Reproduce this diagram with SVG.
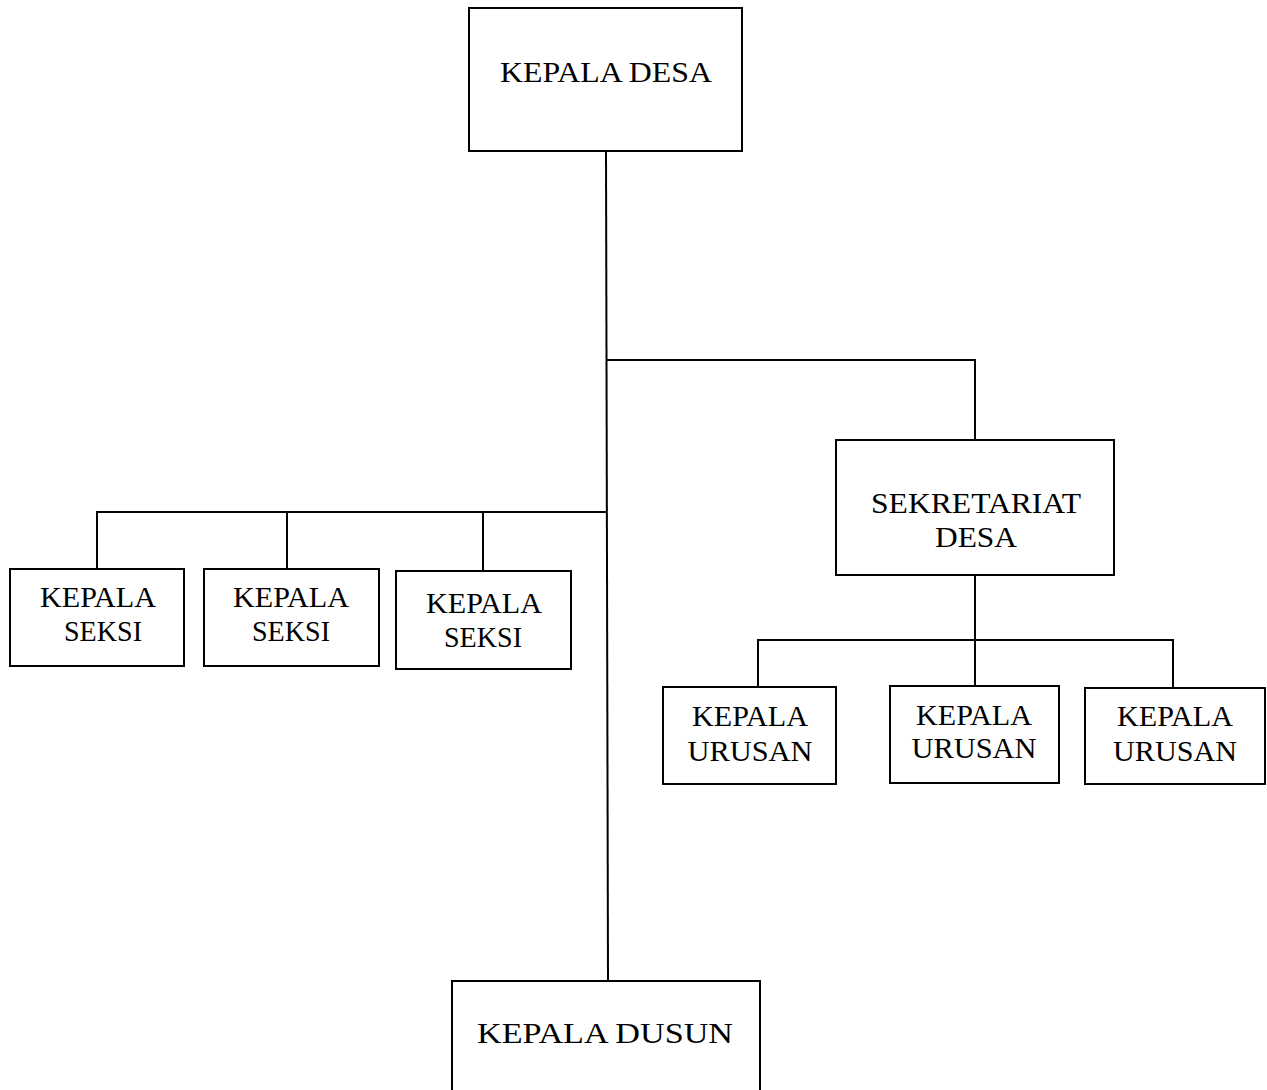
<svg xmlns="http://www.w3.org/2000/svg" width="1267" height="1090" viewBox="0 0 1267 1090">
<style>
.box{fill:#fff;stroke:#000;stroke-width:2}
.ln{fill:none;stroke:#000;stroke-width:2}
text{font-family:"Liberation Serif","DejaVu Serif",serif;font-size:30px;fill:#000;text-anchor:middle}
</style>
<rect width="1267" height="1090" fill="#fff"/>
<g id="connectors">
<path class="ln" d="M606,151 L608,981"/>
<path class="ln" d="M606,360 H975 V440"/>
<path class="ln" d="M96,512 H607"/>
<path class="ln" d="M97,512 V569 M287,512 V569 M483,512 V571"/>
<path class="ln" d="M975,575 V687"/>
<path class="ln" d="M758,687 V640 H1173 V688"/>
</g>
<g id="kepala-desa">
<rect class="box" x="469" y="8" width="273" height="143"/>
<text x="606" y="82" textLength="212" lengthAdjust="spacingAndGlyphs">KEPALA DESA</text>
</g>
<g id="sekretariat-desa">
<rect class="box" x="836" y="440" width="278" height="135"/>
<text x="976" y="513" textLength="210" lengthAdjust="spacingAndGlyphs">SEKRETARIAT</text>
<text x="976" y="547" textLength="82" lengthAdjust="spacingAndGlyphs">DESA</text>
</g>
<g id="kepala-seksi-1">
<rect class="box" x="10" y="569" width="174" height="97"/>
<text x="98" y="607" textLength="116" lengthAdjust="spacingAndGlyphs">KEPALA</text>
<text x="103" y="641" textLength="78" lengthAdjust="spacingAndGlyphs">SEKSI</text>
</g>
<g id="kepala-seksi-2">
<rect class="box" x="204" y="569" width="175" height="97"/>
<text x="291" y="607" textLength="116" lengthAdjust="spacingAndGlyphs">KEPALA</text>
<text x="291" y="641" textLength="78" lengthAdjust="spacingAndGlyphs">SEKSI</text>
</g>
<g id="kepala-seksi-3">
<rect class="box" x="396" y="571" width="175" height="98"/>
<text x="484" y="613" textLength="116" lengthAdjust="spacingAndGlyphs">KEPALA</text>
<text x="483" y="647" textLength="78" lengthAdjust="spacingAndGlyphs">SEKSI</text>
</g>
<g id="kepala-urusan-1">
<rect class="box" x="663" y="687" width="173" height="97"/>
<text x="750" y="726" textLength="116" lengthAdjust="spacingAndGlyphs">KEPALA</text>
<text x="750" y="761" textLength="125" lengthAdjust="spacingAndGlyphs">URUSAN</text>
</g>
<g id="kepala-urusan-2">
<rect class="box" x="890" y="686" width="169" height="97"/>
<text x="974" y="725" textLength="116" lengthAdjust="spacingAndGlyphs">KEPALA</text>
<text x="974" y="758" textLength="125" lengthAdjust="spacingAndGlyphs">URUSAN</text>
</g>
<g id="kepala-urusan-3">
<rect class="box" x="1085" y="688" width="180" height="96"/>
<text x="1175" y="726" textLength="116" lengthAdjust="spacingAndGlyphs">KEPALA</text>
<text x="1175" y="761" textLength="124" lengthAdjust="spacingAndGlyphs">URUSAN</text>
</g>
<g id="kepala-dusun">
<rect class="box" x="452" y="981" width="308" height="130"/>
<text x="605" y="1043" textLength="256" lengthAdjust="spacingAndGlyphs">KEPALA DUSUN</text>
</g>
</svg>
